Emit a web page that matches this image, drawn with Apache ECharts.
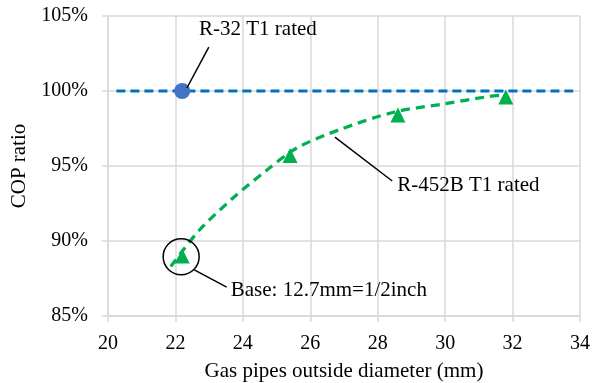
<!DOCTYPE html>
<html>
<head>
<meta charset="utf-8">
<script src="https://cdn.jsdelivr.net/npm/echarts@6/dist/echarts.min.js"></script>
<style>
  html, body { margin: 0; padding: 0; background: #fff; }
  #chart { width: 599px; height: 383px; }
</style>
</head>
<body>
<div id="chart"></div>
<script>
// data
const xTicks = [20, 22, 24, 26, 28, 30, 32, 34]
const yTicks = [85, 90, 95, 100, 105]
const r32Point = [[22.2, 100]]
const r32Line = [[20.25, 100], [33.8, 100]]
const r452bPoints = [[22.2, 89.0], [25.4, 95.7], [28.6, 98.4], [31.8, 99.6]]
// dashed fit curve
const r452bCurve = [
  [21.86, 88.3], [22.7, 90.7], [23.7, 92.85], [24.7, 94.7], [25.6, 96.2],
  [26.9, 97.45], [28.5, 98.6], [30.0, 99.15], [31.2, 99.6], [31.75, 99.75]
]

// annotations: text anchor and leader line ends in data coords
const notes = [
  { text: 'R-32 T1 rated', at: [22.7, 104.07], from: [22.99, 102.93], to: [22.34, 100.2] },
  { text: 'R-452B T1 rated', at: [28.58, 93.73], from: [26.73, 96.93], to: [28.43, 94.0] },
  { text: 'Base: 12.7mm=1/2inch', at: [23.64, 86.73], from: [22.56, 88.07], to: [23.52, 86.93] }
]
const baseCircle = { at: [22.17, 88.95], r: 18 }

const FONT = 'Liberation Serif'
const GRID = '#d9d9d9'

const chart = echarts.init(document.getElementById('chart'))

const option = {
  animation: false,
  grid: { left: 108, right: 19, top: 16, bottom: 67, outerBoundsMode: 'none' },
  xAxis: {
    type: 'value',
    min: xTicks[0],
    max: xTicks[xTicks.length - 1],
    interval: 2,
    name: 'Gas pipes outside diameter (mm)',
    nameLocation: 'middle',
    nameGap: 45,
    nameTextStyle: { fontFamily: FONT, fontSize: 21, color: '#000' },
    axisLine: { lineStyle: { color: GRID, width: 1.5 } },
    axisTick: { show: true, length: 6, lineStyle: { color: GRID, width: 1.5 } },
    axisLabel: { fontFamily: FONT, fontSize: 20, color: '#000', margin: 18 },
    splitLine: { lineStyle: { color: GRID, width: 1.5 } }
  },
  yAxis: {
    type: 'value',
    min: yTicks[0],
    max: yTicks[yTicks.length - 1],
    interval: 5,
    name: 'COP ratio',
    nameLocation: 'middle',
    nameGap: 69,
    nameTextStyle: { fontFamily: FONT, fontSize: 21, color: '#000' },
    axisLine: { show: true, lineStyle: { color: GRID, width: 1.5 } },
    axisTick: { show: true, length: 6, lineStyle: { color: GRID, width: 1.5 } },
    axisLabel: { fontFamily: FONT, fontSize: 20, color: '#000', margin: 20, formatter: '{value}%' },
    splitLine: { lineStyle: { color: GRID, width: 1.5 } }
  },
  series: [
    {
      name: 'R-32 line',
      type: 'line',
      data: r32Line,
      showSymbol: false,
      lineStyle: { color: '#0070C0', width: 3, type: [9, 5] },
      z: 2
    },
    {
      name: 'R-452B curve',
      type: 'line',
      data: r452bCurve,
      smooth: 0.3,
      showSymbol: false,
      lineStyle: { color: '#00B050', width: 3.25, type: [9, 6] },
      z: 2
    },
    {
      name: 'R-32 T1 rated',
      type: 'scatter',
      data: r32Point,
      symbol: 'circle',
      symbolSize: 16,
      itemStyle: { color: '#4472C4', opacity: 1 },
      z: 3
    },
    {
      name: 'R-452B T1 rated',
      type: 'scatter',
      data: r452bPoints,
      symbol: 'triangle',
      symbolSize: 15,
      itemStyle: { color: '#00B050', opacity: 1 },
      z: 3
    }
  ]
}

chart.setOption(option)

// annotation overlay, positioned from data coords
const px = (p) => chart.convertToPixel({ gridIndex: 0 }, p)
const elements = []
notes.forEach((n) => {
  const a = px(n.from)
  const b = px(n.to)
  elements.push({
    type: 'line',
    shape: { x1: a[0], y1: a[1], x2: b[0], y2: b[1] },
    style: { stroke: '#000', lineWidth: 1.5 },
    z: 10
  })
  const t = px(n.at)
  elements.push({
    type: 'text',
    x: t[0],
    y: t[1],
    style: {
      text: n.text,
      font: '21px "' + FONT + '"',
      fill: '#000',
      textVerticalAlign: 'middle',
      textAlign: 'left'
    },
    z: 10
  })
})
const c = px(baseCircle.at)
elements.push({
  type: 'circle',
  shape: { cx: c[0], cy: c[1], r: baseCircle.r },
  style: { fill: 'none', stroke: '#000', lineWidth: 1.5 },
  z: 10
})
chart.setOption({ graphic: elements })
</script>
</body>
</html>
